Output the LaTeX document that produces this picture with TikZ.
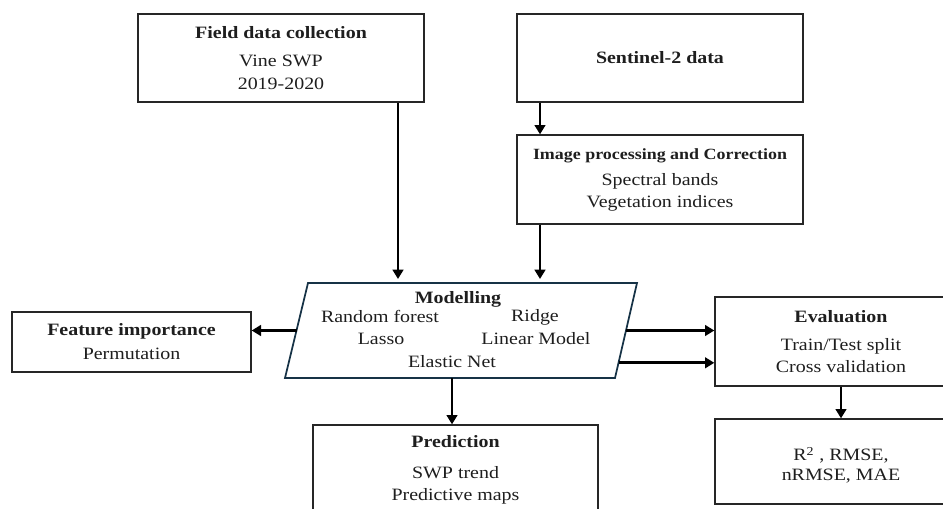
\documentclass[tikz,border=0pt]{standalone}
\usepackage{fontspec}
\setmainfont{Liberation Serif}[FakeStretch=1.15]
\usetikzlibrary{arrows.meta,calc}
\definecolor{boxline}{RGB}{38,38,38}
\definecolor{modelline}{RGB}{22,50,70}
\definecolor{inktext}{RGB}{30,30,30}
\tikzset{
  boxsize/.style n args={2}{
    minimum width=#1*0.75pt, minimum height=#2*0.75pt
  }
}

\begin{document}
\begin{tikzpicture}[
    x=0.75pt, y=-0.75pt,
    font=\fontsize{13}{17}\selectfont,
    text=inktext,
    arrowtip/.style={
      -{Triangle[length=7pt,width=8pt]}, line width=2.1pt
    },
    box/.style={
      draw=boxline, line width=1pt, align=center, inner sep=0pt
    },
    modelbox/.style={
      draw=modelline, line width=1.3pt, line join=miter
    },
    method/.style={
      anchor=base, inner sep=0pt
    }
  ]
    \useasboundingbox (0,0) rectangle (943,508);

    % inputs
    \node[box, boxsize={286}{88}] (field) at (281,58)
      {\textbf{Field data collection}\\[4pt] Vine SWP\\ 2019-2020};
    \node[box, boxsize={286}{88}] (sentinel) at (660,58)
      {\textbf{Sentinel-2 data}};
    \node[box, boxsize={286}{89}] (imgproc) at (660,179.5)
      {{\fontsize{11.7}{15}\selectfont\textbf{Image processing and Correction}}\\[3pt] Spectral bands\\[-1pt] Vegetation indices};

    % models (slanted box)
    \coordinate (mtl) at (308,283);
    \coordinate (mtr) at (637,283);
    \coordinate (mbr) at (615,378);
    \coordinate (mbl) at (285,378);
    \draw[modelbox] (mtl) -- (mtr) -- (mbr) -- (mbl) -- cycle;
    \node[method] (mtitle)  at (458,303) {\textbf{Modelling}};
    \node[method] (mrf)     at (380,322) {Random forest};
    \node[method] (mridge)  at (535,321) {Ridge};
    \node[method] (mlasso)  at (381,344) {Lasso};
    \node[method] (mlinear) at (536,344) {Linear Model};
    \node[method] (melastic) at (452,367) {Elastic Net};

    % outputs
    \node[box, boxsize={239}{60}] (feat) at (131.5,342)
      {\textbf{Feature importance}\\[1pt] Permutation};
    \node[box, boxsize={252}{89}] (eval) at (841,341.5)
      {\textbf{Evaluation}\\[4pt] Train/Test split\\ Cross validation};
    \node[box, boxsize={252}{85}] (metric) at (841,461.5)
      {\rule{0pt}{16pt}R\textsuperscript{2} , RMSE,\\[-2pt] nRMSE, MAE};
    \node[box, boxsize={285}{90}] (pred) at (455.5,470)
      {\textbf{Prediction}\\[6pt] SWP trend\\ Predictive maps};

    % arrow ends on the slanted box
    \coordinate (colA) at (398,0);
    \coordinate (colB) at (540,0);
    \coordinate (mwest)  at ($(mtl)!0.5!(mbl)$);
    \coordinate (meast)  at ($(mtr)!0.5!(mbr)$);
    \coordinate (mout)   at ($(mtr)!0.84!(mbr)$);
    \coordinate (msouth) at (452,378);

    % arrows
    \draw[arrowtip, shorten >=3pt] (field.south -| colA) -- (mtl -| colA);
    \draw[arrowtip] (sentinel.south -| colB) -- (imgproc.north -| colB);
    \draw[arrowtip, shorten >=3pt] (imgproc.south -| colB) -- (mtl -| colB);
    \draw[arrowtip] (mwest) -- (mwest -| feat.east);
    \draw[arrowtip] (meast) -- (meast -| eval.west);
    \draw[arrowtip] (mout) -- (mout -| eval.west);
    \draw[arrowtip] (msouth) -- (msouth |- pred.north);
    \draw[arrowtip] (eval.south) -- (metric.north);
  \end{tikzpicture}
\end{document}
